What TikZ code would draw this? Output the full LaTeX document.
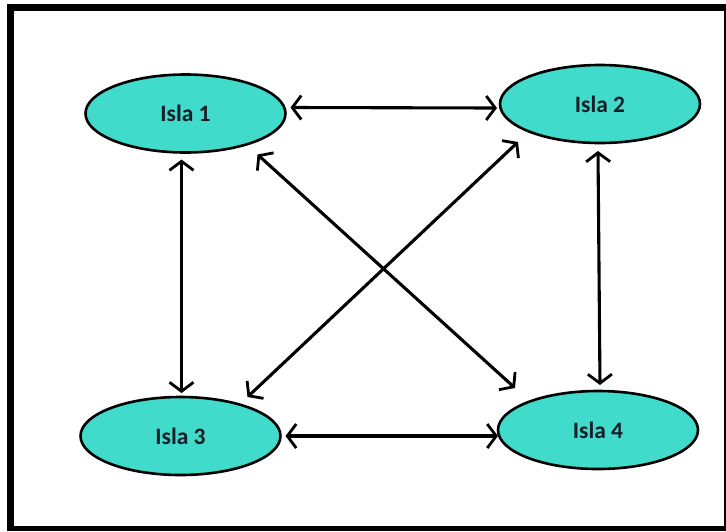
\documentclass[tikz,border=0pt]{standalone}
\usepackage{fontspec}
\setmainfont{Carlito}
\usetikzlibrary{arrows.meta,shapes.geometric}
\definecolor{islafill}{RGB}{64,219,203}
\definecolor{islatext}{RGB}{22,30,40}
\begin{document}
\begin{tikzpicture}[x=1pt,y=-1pt,
  isla/.style={ellipse, draw=black, line width=2.6pt, fill=islafill,
    minimum width=200pt, minimum height=78pt, inner sep=0pt,
    text=islatext, font=\fontsize{23.5}{26}\selectfont\bfseries},
  biarrow/.style={line width=3.1pt, black,
    {Straight Barb[length=9pt,width=24pt,line width=2.8pt]}-{Straight Barb[length=9pt,width=24pt,line width=2.8pt]}}]
\useasboundingbox (0,0) rectangle (726,531);
% outer frame
\fill[black] (7,4) rectangle (726,531);
\fill[white] (14,11) rectangle (724,526);
% islands
\node[isla] (n1) at (185.5,113.5) {Isla 1};
\node[isla] (n2) at (600,104) {Isla 2};
\node[isla] (n3) at (180.5,436) {Isla 3};
\node[isla] (n4) at (598,430) {Isla 4};
% connections
\draw[biarrow] ([shift={(105,-6)}]n1.center) -- ([shift={(-103,4)}]n2.center);
\draw[biarrow] ([shift={(-4,46)}]n1.center) -- ([shift={(1,-43)}]n3.center);
\draw[biarrow] ([shift={(-2,47)}]n2.center) -- ([shift={(2,-45)}]n4.center);
\draw[biarrow] ([shift={(105,0)}]n3.center) -- ([shift={(-100,6)}]n4.center);
\draw[biarrow] ([shift={(72,41)}]n1.center) -- ([shift={(-83,-42)}]n4.center);
\draw[biarrow] ([shift={(-82,38)}]n2.center) -- ([shift={(67,-39)}]n3.center);
\end{tikzpicture}
\end{document}
